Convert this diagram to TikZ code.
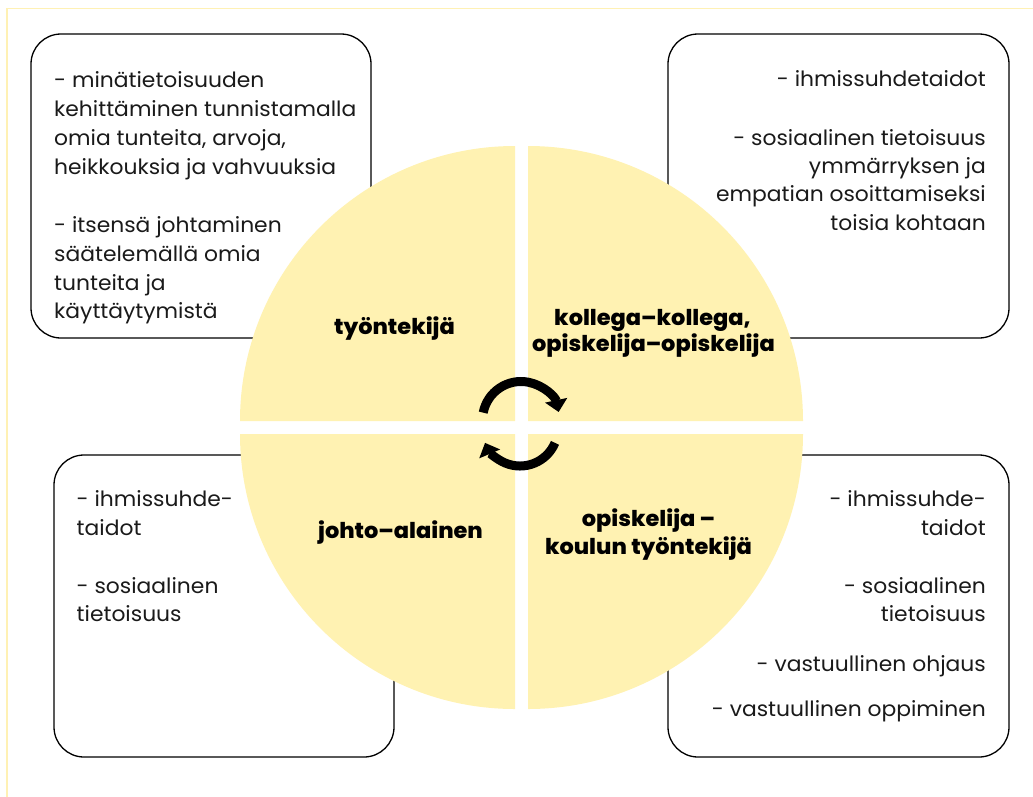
\documentclass[tikz,border=0pt]{standalone}
\usepackage{fontspec}
\setmainfont{Poppins}[FakeStretch=1.04]
\IfFontExistsTF{Poppins ExtraBold}{\newfontfamily\hdfont{Poppins ExtraBold}[FakeStretch=1.03]}{\newcommand\hdfont{\bfseries}}
\usetikzlibrary{arrows.meta}
\definecolor{quadfill}{RGB}{255,242,178}
\definecolor{framey}{RGB}{255,241,180}
\definecolor{ink}{RGB}{26,26,26}
\begin{document}
\begin{tikzpicture}[x=1pt,y=-1pt,
  card/.style={draw=black, line width=1.3pt, fill=white, rounded corners=30pt},
  quad/.style={fill=quadfill},
  body/.style={font=\fontsize{21}{25}\selectfont, inner sep=0pt, text=ink},
  bodyL/.style={body, anchor=base west},
  bodyR/.style={body, anchor=base east},
  head/.style={font=\hdfont\fontsize{21.8}{25}\selectfont, inner sep=0pt, anchor=base, text=black},
  cyc/.style={line width=9pt, -{Triangle[width=22pt,length=12pt]}}]
\useasboundingbox (0,0) rectangle (1033,796);
% thin outer frame, running off the right and bottom edges
\begin{scope}
  \clip (0,0) rectangle (1033,796);
  \draw[framey, line width=1.5pt] (7,8.5) rectangle (1050,820);
\end{scope}
% four text cards
\draw[card] (31,34) rectangle (371,338);
\draw[card] (668,34) rectangle (1009,338);
\draw[card] (54,455) rectangle (394,757);
\draw[card] (668,455) rectangle (1009,757);
% quartered disc
\fill[quad] (515,421) -- ++(-275,0) arc[start angle=180, end angle=270, radius=275] -- cycle;
\fill[quad] (528,421) -- ++(0,-275) arc[start angle=270, end angle=360, radius=275] -- cycle;
\fill[quad] (515,434) -- ++(-275,0) arc[start angle=180, end angle=90, radius=275] -- cycle;
\fill[quad] (528,434) -- ++(275,0) arc[start angle=0, end angle=90, radius=275] -- cycle;
% cycle arrows in the middle
\draw[cyc] (521,420) ++(-169:38.5) arc[start angle=-169, end angle=-12, radius=38.5];
\draw[cyc] (520,428) ++(23:38) arc[start angle=23, end angle=157, radius=38];
% quadrant titles
\node[head] (t1) at (394.5,334.3) {työntekijä};
\node[head] (t2a) at (652.5,325) {kollega–kollega,};
\node[head] (t2b) at (653.5,351.7) {opiskelija–opiskelija};
\node[head] (t3) at (400.5,538.3) {johto–alainen};
\node[head] (t4a) at (648.5,526.7) {opiskelija –};
\node[head] (t4b) at (648.5,554) {koulun työntekijä};
% card texts
\foreach \yy/\tt [count=\i] in {87.5/{- minätietoisuuden}, 116.5/{kehittäminen tunnistamalla},
    145.3/{omia tunteita, arvoja,}, 174.1/{heikkouksia ja vahvuuksia},
    232.7/{- itsensä johtaminen}, 261.3/{säätelemällä omia}, 290/{tunteita ja}, 318.5/{käyttäytymistä}}
  \node[bodyL] (a\i) at (54,\yy) {\tt};
\foreach \yy/\tt [count=\i] in {86.7/{- ihmissuhdetaidot}, 145/{- sosiaalinen tietoisuus},
    173.3/{ymmärryksen ja}, 201.7/{empatian osoittamiseksi}, 230/{toisia kohtaan}}
  \node[bodyR] (b\i) at (986,\yy) {\tt};
\foreach \yy/\tt [count=\i] in {506.7/{- ihmissuhde-}, 535/{taidot}, 593.3/{- sosiaalinen}, 621.7/{tietoisuus}}
  \node[bodyL] (c\i) at (76.5,\yy) {\tt};
\foreach \yy/\tt [count=\i] in {506.7/{- ihmissuhde-}, 535/{taidot}, 593.3/{- sosiaalinen},
    621.7/{tietoisuus}, 671.7/{- vastuullinen ohjaus}, 716.7/{- vastuullinen oppiminen}}
  \node[bodyR] (d\i) at (986,\yy) {\tt};
\end{tikzpicture}
\end{document}
